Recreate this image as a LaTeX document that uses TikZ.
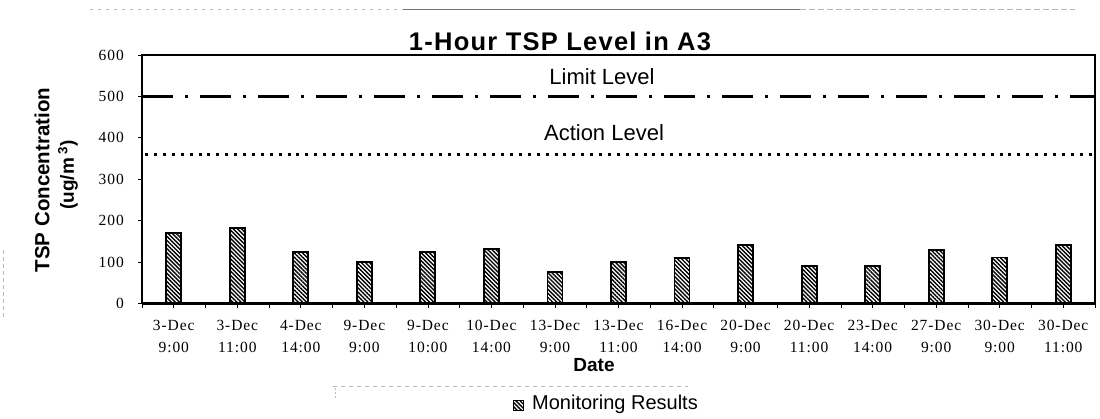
\documentclass[tikz,border=0pt]{standalone}
\usepackage{fontspec}
\setmainfont{Liberation Sans}
\newfontfamily\tickfont[LetterSpace=6]{Liberation Serif}
\newfontfamily\ttlfont[LetterSpace=5]{Liberation Sans}
\usetikzlibrary{patterns.meta}
\tikzset{
  ticklbl/.style={font=\tickfont\fontsize{15.5}{22}\selectfont, inner sep=0pt, align=center},
  hatch/.style={pattern={Lines[angle=-45,distance=2.9pt,line width=1.4pt]}},
  barbox/.style={line width=1.9pt, hatch},
  faint/.style={draw=black!28, line width=0.6pt},
}
\begin{document}
\begin{tikzpicture}[x=1pt,y=-1pt]
\useasboundingbox (0,0) rectangle (1100,418);
\fill[white] (0,0) rectangle (1100,418);
% scan residue lines
\draw[faint, dash pattern=on 3pt off 5pt] (90,9) -- (403,9);
\draw[draw=black!55, line width=0.7pt] (403,9) -- (800,9);
\draw[faint, dash pattern=on 6pt off 3pt] (800,9) -- (1075,9);
\draw[faint, dash pattern=on 4pt off 4pt] (333,386) -- (688,386);
\draw[faint, dash pattern=on 2pt off 2pt] (335,388) -- (335,400);
\draw[faint, dash pattern=on 4pt off 3pt] (3,250) -- (3,317);
% plot
\begin{scope}[shift={(142,303.5)}, x=63.533pt, y=0.41417pt]
  \foreach \v [count=\k] in {170,182,124,100,124,132,77,100,109,141,90,91,129,111,141}
    \draw[barbox] (\k-0.618,0) rectangle (\k-0.382,\v);
  \draw[line width=3.5pt, dash pattern=on 31pt off 12pt on 3pt off 12pt] (0,500) -- (15,500);
  \draw[line width=2.8pt, dash pattern=on 3pt off 5.9pt] (0.05,360) -- (15,360);
  \draw[line width=1.5pt] (0,0) rectangle (15,600);
  \draw[line width=2.5pt] (0,0) -- (15,0);
  \foreach \t in {0,100,...,600} {
    \draw[line width=0.8pt] (0,\t) -- ++(-4pt,0);
    \node[ticklbl, anchor=east] (y\t) at ([xshift=-18pt]0,\t) {\t};
  }
  \foreach \i in {0,0.5,...,15}
    \draw[line width=0.7pt] (\i,0) -- ++(0,-4pt);
  \foreach \dd/\hh [count=\k] in {3-Dec/9:00,3-Dec/11:00,4-Dec/14:00,9-Dec/9:00,9-Dec/10:00,10-Dec/14:00,13-Dec/9:00,13-Dec/11:00,16-Dec/14:00,20-Dec/9:00,20-Dec/11:00,23-Dec/14:00,27-Dec/9:00,30-Dec/9:00,30-Dec/11:00}
    \node[ticklbl] (x\k) at ([yshift=-33pt]\k-0.5,0) {\dd\\\hh};
\end{scope}
% texts
\node[font=\ttlfont\bfseries\fontsize{25.5}{30}\selectfont, anchor=base, inner sep=0pt] (title) at (560,50) {1-Hour TSP Level in A3};
\node[font=\fontsize{22}{26}\selectfont, anchor=base, inner sep=0pt] (limit) at (602,84) {Limit Level};
\node[font=\fontsize{22}{26}\selectfont, anchor=base, inner sep=0pt] (action) at (604,140) {Action Level};
\node[rotate=90, font=\bfseries\fontsize{20.5}{24}\selectfont, inner sep=0pt] (ylab1) at (42,180) {TSP Concentration};
\node[rotate=90, font=\bfseries\fontsize{19}{24}\selectfont, inner sep=0pt] (ylab2) at (68,175) {(ug/m\,\textsuperscript{3})};
\node[font=\bfseries\fontsize{19}{22}\selectfont, inner sep=0pt] (date) at (594,365) {Date};
\node[draw, line width=1pt, hatch, minimum size=10pt, inner sep=0pt] (legbox) at (518,405) {};
\node[anchor=west, font=\fontsize{20}{24}\selectfont, inner sep=0pt] (legtxt) at (532,404) {Monitoring Results};
\end{tikzpicture}
\end{document}
